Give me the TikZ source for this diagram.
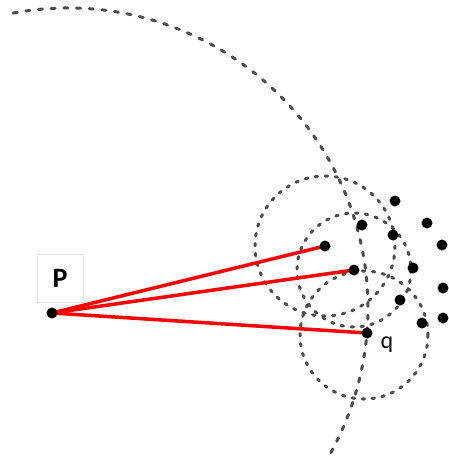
\documentclass[tikz,border=0pt]{standalone}
\usepackage{fontspec}
\setmainfont{Carlito}
\usetikzlibrary{backgrounds}

\begin{document}
\begin{tikzpicture}[x=1pt,y=-1pt,
		blob/.style={circle,fill=black,inner sep=0pt,minimum size=11pt},
		ray/.style={red,line width=3.5pt},
		ring/.style={black!70,line width=3pt,line cap=round,dash pattern=on 2.5pt off 7.5pt},
		bigring/.style={black!70,line width=3pt,line cap=round,dash pattern=on 4pt off 8.7pt}]
	\useasboundingbox (0,0) rectangle (449,456);
	
	% query point and its three rays
	\node[blob] (P) at (52,313) {};
	\node[blob] (a) at (325,246) {};
	\node[blob] (b) at (354,270) {};
	\node[blob] (q) at (367,333) {};
	
	% the other points of the cluster
	\foreach \x/\y [count=\i] in {362/225,395/201,393/235,427/223,442/245,413/268,443/288,400/300,422/323,443/318}
		\node[blob] (n\i) at (\x,\y) {};
	
	\begin{scope}[on background layer]
		\draw[bigring] (68,308) ++(-100.5:300) arc[start angle=-100.5,end angle=31,radius=300];
		\draw[ring] (a) circle[radius=70];
		\draw[ring] (b) circle[radius=57];
		\draw[ring] ([shift={(-3,2)}]q.center) circle[radius=64];
		\draw[ray] (P.center) -- (a.center);
		\draw[ray] (P.center) -- (b.center);
		\draw[ray] (P.center) -- (q.center);
	\end{scope}
	
	\node[draw=black!10,fill=white,minimum width=46pt,minimum height=48pt,
		font=\bfseries\fontsize{28}{28}\selectfont] (Plabel) at (60,278) {P};
	\node[font=\fontsize{24}{24}\selectfont] (qlabel) at (387,345) {q};
\end{tikzpicture}
\end{document}
